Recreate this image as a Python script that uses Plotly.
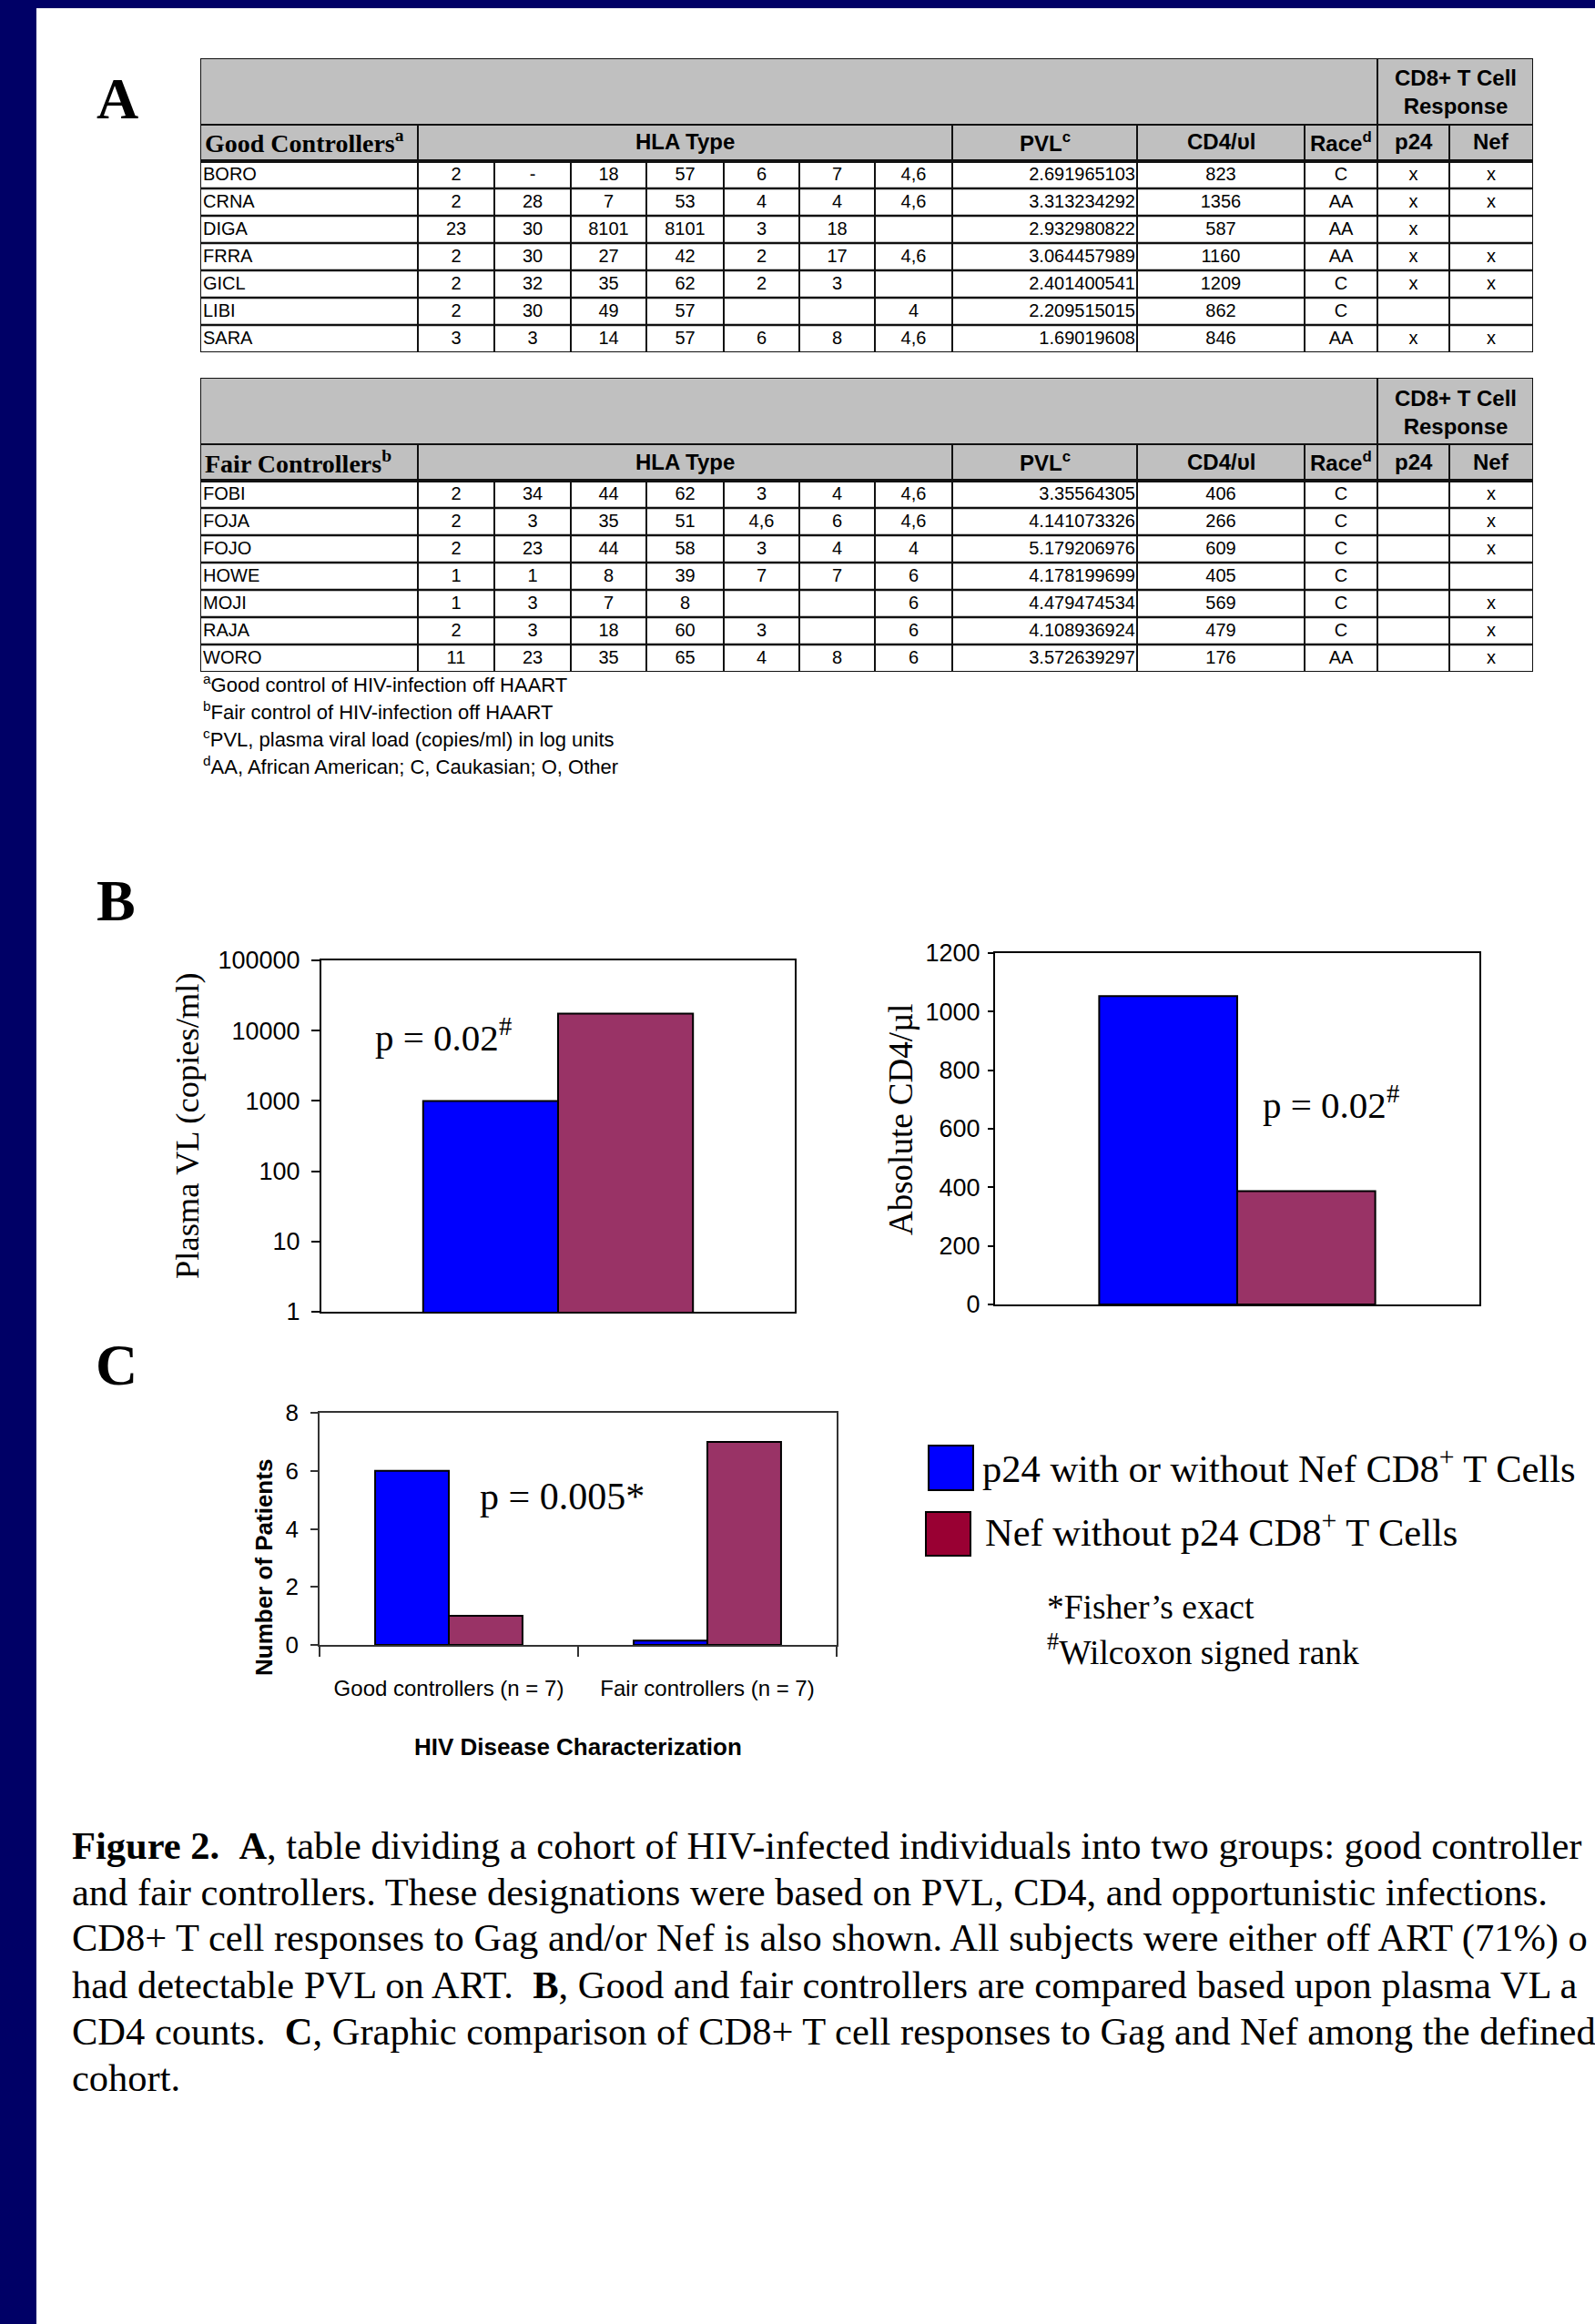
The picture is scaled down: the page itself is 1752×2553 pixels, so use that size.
import plotly.graph_objects as go

W, H = 1752, 2553

# ---------------- DATA ----------------
good_names = ["BORO", "CRNA", "DIGA", "FRRA", "GICL", "LIBI", "SARA"]
good_hla = [
    ["2", "-", "18", "57", "6", "7", "4,6"],
    ["2", "28", "7", "53", "4", "4", "4,6"],
    ["23", "30", "8101", "8101", "3", "18", ""],
    ["2", "30", "27", "42", "2", "17", "4,6"],
    ["2", "32", "35", "62", "2", "3", ""],
    ["2", "30", "49", "57", "", "", "4"],
    ["3", "3", "14", "57", "6", "8", "4,6"],
]
good_pvl = ["2.691965103", "3.313234292", "2.932980822", "3.064457989",
            "2.401400541", "2.209515015", "1.69019608"]
good_cd4 = ["823", "1356", "587", "1160", "1209", "862", "846"]
good_race = ["C", "AA", "AA", "AA", "C", "C", "AA"]
good_p24 = ["x", "x", "x", "x", "x", "", "x"]
good_nef = ["x", "x", "", "x", "x", "", "x"]

fair_names = ["FOBI", "FOJA", "FOJO", "HOWE", "MOJI", "RAJA", "WORO"]
fair_hla = [
    ["2", "34", "44", "62", "3", "4", "4,6"],
    ["2", "3", "35", "51", "4,6", "6", "4,6"],
    ["2", "23", "44", "58", "3", "4", "4"],
    ["1", "1", "8", "39", "7", "7", "6"],
    ["1", "3", "7", "8", "", "", "6"],
    ["2", "3", "18", "60", "3", "", "6"],
    ["11", "23", "35", "65", "4", "8", "6"],
]
fair_pvl = ["3.35564305", "4.141073326", "5.179206976", "4.178199699",
            "4.479474534", "4.108936924", "3.572639297"]
fair_cd4 = ["406", "266", "609", "405", "569", "479", "176"]
fair_race = ["C", "C", "C", "C", "C", "C", "AA"]
fair_p24 = ["", "", "", "", "", "", ""]
fair_nef = ["x", "x", "x", "", "x", "x", "x"]

footnotes = [
    "<sup>a</sup>Good control of HIV-infection off HAART",
    "<sup>b</sup>Fair control of HIV-infection off HAART",
    "<sup>c</sup>PVL, plasma viral load (copies/ml) in log units",
    "<sup>d</sup>AA, African American; C, Caukasian; O, Other",
]

group_names = ["Good controllers", "Fair controllers"]
pvl_means = [1000, 17500]          # copies/ml
cd4_means = [1053, 387]            # cells/µl
pvl_ticks = [1, 10, 100, 1000, 10000, 100000]
pvl_ticktext = ["1", "10", "100", "1000", "10000", "100000"]

resp_categories = ["Good controllers (n = 7)", "Fair controllers (n = 7)"]
p24_counts = [6, 0.15]
nef_only_counts = [1, 7]
series_names = ["p24 with or without Nef CD8<sup>+</sup> T Cells",
                "Nef without p24 CD8<sup>+</sup> T Cells"]

# caption as visible in the figure (its right end runs off the page)
caption_lines = [
    "<b>Figure 2.</b>\u00a0 <b>A</b>, table dividing a cohort of HIV-infected individuals into two groups: good controller",
    "and fair controllers. These designations were based on PVL, CD4, and opportunistic infections.",
    "CD8+ T cell responses to Gag and/or Nef is also shown. All subjects were either off ART (71%) o",
    "had detectable PVL on ART.\u00a0 <b>B</b>, Good and fair controllers are compared based upon plasma VL a",
    "CD4 counts.\u00a0 <b>C</b>, Graphic comparison of CD8+ T cell responses to Gag and Nef among the defined",
    "cohort.",
]

# ---------------- STYLE ----------------
SANS = "Liberation Sans, Arial, sans-serif"
SERIF = "Liberation Serif, Times New Roman, serif"
BLUE = "#0000FF"
MAROON = "#993366"
LEG_MAROON = "#990033"
NAVY = "#000066"
GRAY = "#C0C0C0"


def px_x(p):
    return p / W


def px_y(p):
    return 1 - p / H


def dom_x(a, b):
    return [a / W, b / W]


def dom_y(top, bottom):
    return [1 - bottom / H, 1 - top / H]


fig = go.Figure()
shapes = []
annotations = []


def ann(text, x, y, size, family=SERIF, xanchor="left", yanchor="middle", angle=0, color="black"):
    annotations.append(dict(text=text, x=px_x(x), y=px_y(y), xref="paper", yref="paper",
                            xanchor=xanchor, yanchor=yanchor, showarrow=False, textangle=angle,
                            font=dict(family=family, size=size, color=color), align="left"))


# ---------------- page frame ----------------
shapes.append(dict(type="rect", xref="paper", yref="paper", x0=0, x1=px_x(40), y0=0, y1=1,
                   fillcolor=NAVY, line=dict(width=0), layer="below"))
shapes.append(dict(type="rect", xref="paper", yref="paper", x0=0, x1=1, y0=px_y(9), y1=1,
                   fillcolor=NAVY, line=dict(width=0), layer="below"))

# ---------------- tables ----------------
col_w = [239, 84, 84, 83, 85, 83, 83, 85, 203, 184, 80, 79, 92]
edges = [0]
for w in col_w:
    edges.append(edges[-1] + w)
TW = edges[-1]
band_h, head_h, row_h = 73, 40, 30
TH = band_h + head_h + row_h * 7
TABLE_LEFT = 220


def add_table(n, top_px, names, hla, pvl, cd4, race, p24, nef, title):
    xa, ya = f"x{n}", f"y{n}"
    fig.update_layout(**{
        f"xaxis{n}": dict(domain=dom_x(TABLE_LEFT, TABLE_LEFT + TW), range=[0, TW], visible=False,
                          fixedrange=True, anchor=ya, automargin=False),
        f"yaxis{n}": dict(domain=dom_y(top_px, top_px + TH), range=[TH, 0], visible=False,
                          fixedrange=True, anchor=xa, automargin=False),
    })
    shapes.append(dict(type="rect", xref=xa, yref=ya, x0=0, x1=TW, y0=0, y1=band_h + head_h,
                       fillcolor=GRAY, line=dict(width=0), layer="below"))
    line_c = "#111111"
    shapes.append(dict(type="line", xref=xa, yref=ya, x0=0, x1=TW, y0=band_h, y1=band_h,
                       line=dict(color=line_c, width=2)))
    shapes.append(dict(type="line", xref=xa, yref=ya, x0=0, x1=TW, y0=band_h + head_h,
                       y1=band_h + head_h, line=dict(color=line_c, width=4)))
    for k in range(1, 7):
        yy = band_h + head_h + row_h * k
        shapes.append(dict(type="line", xref=xa, yref=ya, x0=0, x1=TW, y0=yy, y1=yy,
                           line=dict(color=line_c, width=2.5)))
    shapes.append(dict(type="line", xref=xa, yref=ya, x0=edges[11], x1=edges[11], y0=0, y1=TH,
                       line=dict(color=line_c, width=2)))
    for e in [edges[1], edges[8], edges[9], edges[10], edges[12]]:
        shapes.append(dict(type="line", xref=xa, yref=ya, x0=e, x1=e, y0=band_h, y1=TH,
                           line=dict(color=line_c, width=2)))
    for e in edges[2:8]:
        shapes.append(dict(type="line", xref=xa, yref=ya, x0=e, x1=e, y0=band_h + head_h, y1=TH,
                           line=dict(color=line_c, width=2)))
    shapes.append(dict(type="rect", xref=xa, yref=ya, x0=0, x1=TW, y0=0, y1=TH,
                       line=dict(color=line_c, width=2)))

    hy = band_h + head_h / 2 - 1

    def hann(text, x, y, size=24, family=SANS, xanchor="center"):
        annotations.append(dict(text=text, x=x, y=y, xref=xa, yref=ya, showarrow=False,
                                xanchor=xanchor, yanchor="middle",
                                font=dict(family=family, size=size, color="black")))

    hann("<b>CD8+ T Cell<br>Response</b>", (edges[11] + edges[13]) / 2, band_h / 2 + 1, size=24)
    hann(f"<b>{title}</b>", 3, hy, size=28, family=SERIF, xanchor="left")
    hann("<b>HLA Type</b>", (edges[1] + edges[8]) / 2, hy)
    hann("<b>PVL<sup>c</sup></b>", (edges[8] + edges[9]) / 2, hy)
    hann("<b>CD4/\u03c5l</b>", (edges[9] + edges[10]) / 2, hy)
    hann("<b>Race<sup>d</sup></b>", (edges[10] + edges[11]) / 2, hy)
    hann("<b>p24</b>", (edges[11] + edges[12]) / 2, hy)
    hann("<b>Nef</b>", (edges[12] + edges[13]) / 2, hy)

    row_y = [band_h + head_h + row_h * (i + 0.5) + 1 for i in range(len(names))]
    tf = dict(family=SANS, size=20, color="black")

    def tx(xpos, texts, pos):
        # only the filled cells get a text mark
        keep = [i for i, t in enumerate(texts) if t != ""]
        if not keep:
            return
        fig.add_trace(go.Scatter(x=[xpos] * len(keep), y=[row_y[i] for i in keep],
                                 text=[texts[i] for i in keep], mode="text", textposition=pos,
                                 textfont=tf, xaxis=xa, yaxis=ya, hoverinfo="skip",
                                 showlegend=False, cliponaxis=False))

    tx(3, names, "middle right")
    for j in range(7):
        tx((edges[1 + j] + edges[2 + j]) / 2, [r[j] for r in hla], "middle center")
    tx(edges[9] - 2, pvl, "middle left")
    tx((edges[9] + edges[10]) / 2, cd4, "middle center")
    tx((edges[10] + edges[11]) / 2, race, "middle center")
    tx((edges[11] + edges[12]) / 2, p24, "middle center")
    tx((edges[12] + edges[13]) / 2, nef, "middle center")


add_table(4, 64, good_names, good_hla, good_pvl, good_cd4, good_race, good_p24, good_nef,
          "Good Controllers<sup>a</sup>")
add_table(5, 415, fair_names, fair_hla, fair_pvl, fair_cd4, fair_race, fair_p24, fair_nef,
          "Fair Controllers<sup>b</sup>")

for i, t in enumerate(footnotes):
    ann(t, 221, 751 + 30 * i, 22, family=SANS)

# ---------------- panel letters ----------------
ann("<b>A</b>", 104, 109, 64)
ann("<b>B</b>", 104, 989, 64)
ann("<b>C</b>", 103, 1499, 64)

# ---------------- bars ----------------
bar_line = dict(color="black", width=2)
fig.add_trace(go.Bar(x=["PVL"], y=[pvl_means[0]], name=group_names[0], marker=dict(color=BLUE, line=bar_line),
                     xaxis="x", yaxis="y", showlegend=False))
fig.add_trace(go.Bar(x=["PVL"], y=[pvl_means[1]], name=group_names[1], marker=dict(color=MAROON, line=bar_line),
                     xaxis="x", yaxis="y", showlegend=False))
fig.add_trace(go.Bar(x=["CD4"], y=[cd4_means[0]], name=group_names[0], marker=dict(color=BLUE, line=bar_line),
                     xaxis="x2", yaxis="y2", showlegend=False))
fig.add_trace(go.Bar(x=["CD4"], y=[cd4_means[1]], name=group_names[1], marker=dict(color=MAROON, line=bar_line),
                     xaxis="x2", yaxis="y2", showlegend=False))
fig.add_trace(go.Bar(x=resp_categories, y=p24_counts, name=series_names[0],
                     marker=dict(color=BLUE, line=bar_line), xaxis="x3", yaxis="y3", showlegend=False))
fig.add_trace(go.Bar(x=resp_categories, y=nef_only_counts, name=series_names[1],
                     marker=dict(color=MAROON, line=bar_line), xaxis="x3", yaxis="y3", showlegend=False))

box = dict(showline=True, linewidth=2, linecolor="black", mirror=True, showgrid=False, zeroline=False,
           automargin=False)
boxc = dict(showline=True, linewidth=1.5, linecolor="#333333", mirror=True, showgrid=False, zeroline=False,
            automargin=False)

fig.update_layout(
    xaxis=dict(domain=dom_x(353, 873), anchor="y", showticklabels=False, ticks="", **box),
    yaxis=dict(domain=dom_y(1055, 1441), anchor="x", type="log", range=[0, 5], tickvals=pvl_ticks,
               ticktext=pvl_ticktext, ticks="outside", ticklen=9, tickwidth=2, tickcolor="black",
               tickfont=dict(family=SANS, size=27, color="black"), ticklabelstandoff=7, **box),
    xaxis2=dict(domain=dom_x(1093, 1625), anchor="y2", showticklabels=False, ticks="", **box),
    yaxis2=dict(domain=dom_y(1047, 1433), anchor="x2", range=[0, 1200], dtick=200,
                ticks="outside", ticklen=6, tickwidth=2, tickcolor="black",
                tickfont=dict(family=SANS, size=27, color="black"), ticklabelstandoff=3, **box),
    xaxis3=dict(domain=dom_x(351, 919), anchor="y3", ticks="outside", tickson="boundaries", ticklen=11,
                tickwidth=1.5, tickcolor="#333333", tickangle=0,
                tickfont=dict(family=SANS, size=24, color="black"), ticklabelstandoff=25, **boxc),
    yaxis3=dict(domain=dom_y(1552, 1807), anchor="x3", range=[0, 8], dtick=2, ticks="outside", ticklen=8,
                tickwidth=1.5, tickcolor="#333333",
                tickfont=dict(family=SANS, size=26, color="black"), ticklabelstandoff=8, **boxc),
)

# chart texts
ann("Plasma VL (copies/ml)", 206, 1237, 36.5, xanchor="center", angle=-90)
ann("p = 0.02<sup>#</sup>", 410, 1137, 41)
ann("Absolute CD4/\u00b5l", 989, 1230, 37, xanchor="center", angle=-90)
ann("p = 0.02<sup>#</sup>", 1385, 1211, 41)
ann("<b>Number of Patients</b>", 290, 1722, 26, family=SANS, xanchor="center", angle=-90)
ann("p = 0.005*", 525, 1644, 42)
ann("<b>HIV Disease Characterization</b>", 635, 1919, 26, family=SANS, xanchor="center")

# legend (custom swatches)
shapes.append(dict(type="rect", xref="paper", yref="paper", x0=px_x(1020), x1=px_x(1069),
                   y0=px_y(1637), y1=px_y(1588), fillcolor=BLUE, line=dict(color="black", width=2)))
shapes.append(dict(type="rect", xref="paper", yref="paper", x0=px_x(1017), x1=px_x(1066),
                   y0=px_y(1709), y1=px_y(1661), fillcolor=LEG_MAROON, line=dict(color="black", width=2)))
ann(series_names[0], 1077, 1610, 42.5)
ann(series_names[1], 1080, 1680, 42.5)
ann("*Fisher\u2019s exact", 1148, 1766, 37.5)
ann("<sup>#</sup>Wilcoxon signed rank", 1148, 1812, 37.5)

# caption
for i, line in enumerate(caption_lines):
    ann(line, 77, 2027 + 51 * i, 42.5)

fig.update_layout(
    width=W, height=H, autosize=False,
    margin=dict(l=0, r=0, t=0, b=0, autoexpand=False),
    paper_bgcolor="white", plot_bgcolor="white",
    barmode="group", bargap=0.43, bargroupgap=0,
    showlegend=False,
    shapes=shapes, annotations=annotations,
)

fig.write_html("out.html", config={"displayModeBar": False},
               post_script="document.body.style.margin='0';")
